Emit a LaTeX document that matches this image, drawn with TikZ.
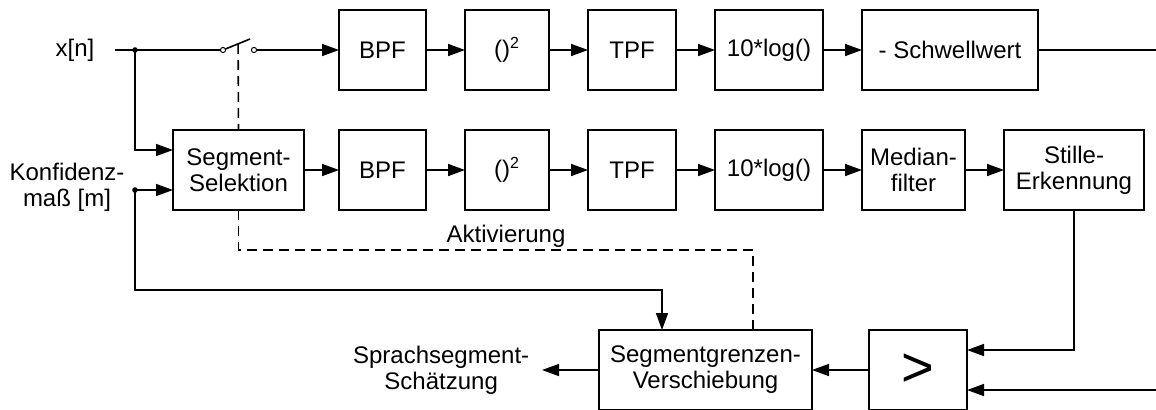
\documentclass[tikz,border=0pt]{standalone}
\usepackage{fontspec}
\setmainfont{Liberation Sans}
\usetikzlibrary{arrows.meta,calc,positioning}

\begin{document}
\begin{tikzpicture}[x=0.5pt, y=-0.5pt,
  node distance = 19.5pt,
  line width = 0.8pt,
  >={Triangle[length=8.5pt,width=6pt]},
  font=\fontsize{12}{13}\selectfont,
  block/.style = {rectangle, draw, minimum width=#1, minimum height=40pt, text centered, align=center, inner sep=0pt, outer sep=0pt},
  block/.default = 44pt,
  label/.style = {align=center, inner sep=0pt},
  ctrl/.style  = {dash pattern=on 5pt off 3pt},
  ]
  \clip (0,0) rectangle (1156,409);
  % lower chain (segment analysis)
  \node[block=65.5pt] (seg) at (238.5,170) {Segment-\\Selektion};
  \node[block=43.5pt, right=17.5pt of seg] (bpfb) {BPF};
  \node[block=42pt, right=of bpfb] (sqb) {()\textsuperscript{2}};
  \node[block=44pt, right=of sqb] (tpfb) {TPF};
  \node[block=54pt, right=of tpfb] (logb) {10*log()};
  \node[block=51.5pt, right=of logb] (med) {Median-\\filter};
  \node[block=70pt, right=of med] (still) {Stille-\\Erkennung};
  % upper chain (threshold)
  \node[block=43.5pt, above=20pt of bpfb] (bpfa) {BPF};
  \node[block=42pt, right=of bpfa] (sqa) {()\textsuperscript{2}};
  \node[block=44pt, right=of sqa] (tpfa) {TPF};
  \node[block=54pt, right=of tpfa] (loga) {10*log()};
  \node[block=88pt, right=of loga] (thr) {- Schwellwert};
  % bottom blocks
  \node[block=49pt] (cmp) at (918,370) {\fontsize{28}{28}\selectfont >};
  \node[block=106.5pt, left=28.5pt of cmp] (shift) {Segmentgrenzen-\\Verschiebung};
  % inputs / outputs
  \node[label] (xin) at (75,50) {x[n]};
  \node[label] (conf) at (67,187) {Konfidenz-\\maß [m]};
  \node[label, left=34.5pt of shift.west] (est) {Sprachsegment-\\Schätzung};
  \coordinate (xsplit) at (135,50);
  \coordinate (ksplit) at (135,190);
  \coordinate (swa) at (223,50);
  \coordinate (swb) at (254,50);
  \coordinate (swtip) at ($(swa)+(27,-11)$);
  \coordinate (swmid) at ($(swa)!0.56!(swtip)$);
  \coordinate (act) at (753,250);
  \coordinate (kbend) at (662,290);
  \coordinate (throut) at (1170,50);
  \coordinate (thrin) at (1170,390);

  % signal path with switch
  \draw (xin.east) ++(20,0) -- (swa);
  \draw (swa) -- (swtip);
  \draw[->] (swb) -- (bpfa);
  \draw[line width=0.5pt, fill=white] (swa) circle (1.3pt) (swb) circle (1.3pt);
  \fill (xsplit) circle (1.4pt) (ksplit) circle (1.4pt);
  \draw[->] (xsplit) |- ([yshift=10pt]seg.west);
  \draw (conf.east) ++(8,3) -- (ksplit);
  \draw[->] (ksplit) -- ([yshift=-10pt]seg.west);
  \draw[->] (ksplit) |- (kbend) -- (kbend |- shift.north);
  \draw[ctrl] (swmid) -- (seg.north);
  \draw[ctrl] (seg.south) |- node[pos=0.76, above, inner sep=1pt] (actlabel) {Aktivierung} (act) -- (act |- shift.north);

  % chains
  \draw[->] (bpfa) -- (sqa);
  \draw[->] (sqa) -- (tpfa);
  \draw[->] (tpfa) -- (loga);
  \draw[->] (loga) -- (thr);
  \draw (thr) -- (throut);
  \draw[->] (seg) -- (bpfb);
  \draw[->] (bpfb) -- (sqb);
  \draw[->] (sqb) -- (tpfb);
  \draw[->] (tpfb) -- (logb);
  \draw[->] (logb) -- (med);
  \draw[->] (med) -- (still);

  % decision and output
  \draw[->] (still.south) |- ([yshift=10pt]cmp.east);
  \draw[->] (thrin) -- ([yshift=-10pt]cmp.east);
  \draw[->] (cmp) -- (shift);
  \draw[->] (shift.west) -- ([xshift=6pt]est.east);
\end{tikzpicture}
\end{document}
